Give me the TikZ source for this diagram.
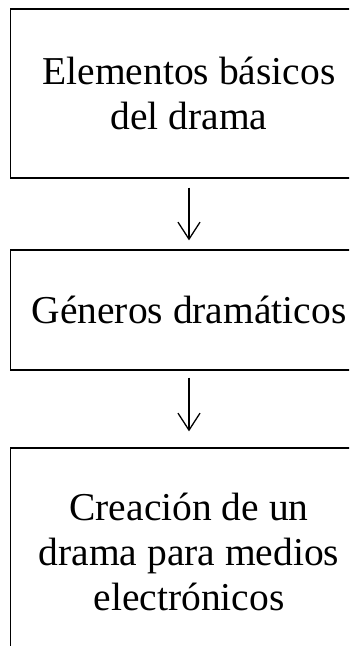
\documentclass[tikz,border=0pt]{standalone}
\usepackage{fontspec}
\setmainfont{Liberation Serif}
\usetikzlibrary{arrows.meta}
\begin{document}
\begin{tikzpicture}[x=1pt,y=1pt,
  box/.style={draw=black,line width=1.3pt,rectangle,inner sep=0pt,minimum width=357pt,align=center,font=\fontsize{39.5}{45}\selectfont},
  conn/.style={line width=1.3pt,-{Straight Barb[length=17pt,width=22pt,line width=1.3pt]}}]
\useasboundingbox (0,0) rectangle (349,-646);
\clip (0,0) rectangle (349,-646);
\node[box,minimum height=169pt] (b1) at (189,-93.5) {Elementos básicos\\del drama};
\node[box,minimum height=120pt] (b2) at (189,-310) {Géneros dramáticos};
\node[box,minimum height=208pt] (b3) at (189,-552) {Creación de un\\drama para medios\\electrónicos};
\draw[conn,shorten <=9pt,shorten >=9pt] (b1.south) -- (b2.north);
\draw[conn,shorten <=7pt,shorten >=16pt] (b2.south) -- (b3.north);
\end{tikzpicture}
\end{document}
